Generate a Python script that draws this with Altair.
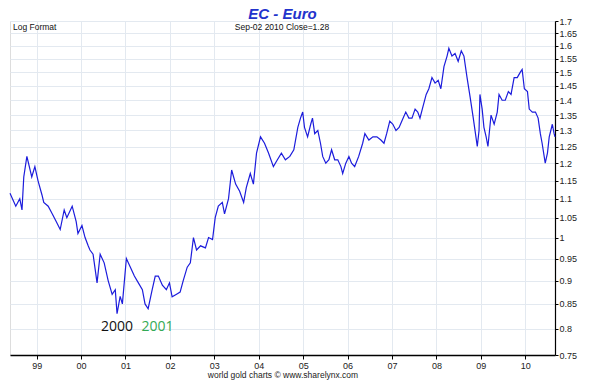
import altair as alt
import pandas as pd

# Decimal year and EUR/USD close
years = [1998.40, 1998.53, 1998.62, 1998.67, 1998.71, 1998.78, 1998.89, 1998.96,
         1999.03, 1999.12, 1999.16, 1999.26, 1999.35, 1999.44, 1999.53, 1999.62,
         1999.68, 1999.80, 1999.89, 1999.93, 2000.02, 2000.09, 2000.16, 2000.20,
         2000.27, 2000.36, 2000.43, 2000.52, 2000.61, 2000.70, 2000.77, 2000.81,
         2000.88, 2000.93, 2001.02, 2001.11, 2001.20, 2001.29, 2001.38, 2001.44,
         2001.51, 2001.60, 2001.67, 2001.74, 2001.83, 2001.92, 2001.99, 2002.05,
         2002.14, 2002.23, 2002.30, 2002.39, 2002.46, 2002.53, 2002.60, 2002.69,
         2002.80, 2002.87, 2002.96, 2003.02, 2003.09, 2003.18, 2003.23, 2003.32,
         2003.39, 2003.48, 2003.57, 2003.66, 2003.72, 2003.81, 2003.88, 2003.95,
         2004.04, 2004.13, 2004.22, 2004.33, 2004.42, 2004.51, 2004.60, 2004.70,
         2004.79, 2004.88, 2004.94, 2004.99, 2005.03, 2005.10, 2005.17, 2005.21,
         2005.26, 2005.33, 2005.39, 2005.44, 2005.51, 2005.58, 2005.64, 2005.71,
         2005.78, 2005.85, 2005.89, 2005.96, 2006.03, 2006.09, 2006.16, 2006.25,
         2006.34, 2006.39, 2006.48, 2006.57, 2006.66, 2006.75, 2006.82, 2006.88,
         2006.95, 2007.02, 2007.09, 2007.16, 2007.22, 2007.31, 2007.38, 2007.45,
         2007.52, 2007.58, 2007.63, 2007.70, 2007.77, 2007.83, 2007.90, 2007.97,
         2008.04, 2008.10, 2008.17, 2008.24, 2008.28, 2008.35, 2008.42, 2008.49,
         2008.56, 2008.62, 2008.69, 2008.76, 2008.83, 2008.89, 2008.92, 2008.96,
         2008.98, 2009.03, 2009.07, 2009.12, 2009.16, 2009.23, 2009.30, 2009.37,
         2009.41, 2009.48, 2009.55, 2009.62, 2009.68, 2009.75, 2009.82, 2009.89,
         2009.93, 2009.98, 2010.05, 2010.09, 2010.16, 2010.23, 2010.29, 2010.34,
         2010.38, 2010.45, 2010.50, 2010.54, 2010.61, 2010.65, 2010.67]
rates = [1.115, 1.08, 1.10, 1.07, 1.16, 1.22, 1.16, 1.19,
         1.15, 1.11, 1.09, 1.08, 1.06, 1.04, 1.02, 1.07,
         1.05, 1.08, 1.04, 1.01, 1.03, 1.00, 0.98, 0.97,
         0.96, 0.895, 0.96, 0.94, 0.90, 0.87, 0.88, 0.83,
         0.866, 0.85, 0.95, 0.93, 0.91, 0.895, 0.88, 0.85,
         0.84, 0.88, 0.91, 0.91, 0.89, 0.88, 0.895, 0.865,
         0.87, 0.875, 0.90, 0.93, 0.94, 1.00, 0.97, 0.98,
         0.975, 1.00, 0.995, 1.05, 1.08, 1.09, 1.06, 1.10,
         1.18, 1.14, 1.12, 1.09, 1.13, 1.17, 1.14, 1.23,
         1.28, 1.26, 1.23, 1.19, 1.21, 1.23, 1.21, 1.22,
         1.24, 1.31, 1.34, 1.36, 1.31, 1.28, 1.32, 1.34,
         1.29, 1.30, 1.26, 1.22, 1.20, 1.21, 1.24, 1.21,
         1.21, 1.19, 1.17, 1.20, 1.22, 1.20, 1.19, 1.22,
         1.26, 1.29, 1.27, 1.28, 1.28, 1.27, 1.26, 1.29,
         1.33, 1.32, 1.30, 1.31, 1.33, 1.36, 1.34, 1.34,
         1.37, 1.36, 1.34, 1.38, 1.42, 1.44, 1.48, 1.46,
         1.47, 1.44, 1.52, 1.56, 1.59, 1.56, 1.57, 1.54,
         1.58, 1.56, 1.48, 1.41, 1.34, 1.28, 1.25, 1.30,
         1.42, 1.37, 1.31, 1.28, 1.25, 1.35, 1.32, 1.36,
         1.42, 1.40, 1.40, 1.43, 1.42, 1.48, 1.48, 1.50,
         1.51, 1.44, 1.43, 1.37, 1.36, 1.36, 1.34, 1.29,
         1.26, 1.20, 1.23, 1.28, 1.32, 1.29, 1.28]

x_ticks = list(range(1999, 2011))
y_ticks = [0.75, 0.8, 0.85, 0.9, 0.95, 1, 1.05, 1.1, 1.15, 1.2, 1.25, 1.3,
           1.35, 1.4, 1.45, 1.5, 1.55, 1.6, 1.65, 1.7]

ann_labels = ["2000", "2001"]
ann_years = [2000.81, 2001.72]
ann_rates = [0.803, 0.803]
ann_colors = ["#111111", "#33aa55"]

title_text = "EC  -  Euro"
subtitle_left = "Log Format"
subtitle_mid = "Sep-02  2010    Close=1.28"

df = pd.DataFrame({"year": years, "rate": rates})
ann = pd.DataFrame({"year": ann_years, "rate": ann_rates,
                    "label": ann_labels, "color": ann_colors})

FONT = "Liberation Sans"

xs = alt.Scale(domain=[1998.40, 2010.67], nice=False, zero=False)
ys = alt.Scale(type="log", domain=[0.75, 1.7], nice=False, zero=False)

line = alt.Chart(df).mark_line(color="#1c1cdc", strokeWidth=1.2).encode(
    x=alt.X("year:Q", scale=xs,
            axis=alt.Axis(values=x_ticks,
                          labelExpr="slice(toString(datum.value), 2)",
                          title="world gold charts © www.sharelynx.com",
                          titleFont=FONT, titleFontSize=8.5, titleFontWeight="normal",
                          titleColor="#222", titlePadding=0,
                          labelFont=FONT, labelFontSize=9, labelColor="#222",
                          labelPadding=2, tickSize=4, tickColor="#000",
                          domainColor="#000", domainWidth=1.5,
                          grid=True, gridColor="#e3e9f0", gridWidth=1)),
    y=alt.Y("rate:Q", scale=ys,
            axis=alt.Axis(orient="right", values=y_ticks, format="~g", title=None,
                          labelFont=FONT, labelFontSize=9, labelColor="#222",
                          labelPadding=1, tickSize=3, tickColor="#000",
                          domainColor="#000", domainWidth=1.2,
                          grid=True, gridColor="#e3e9f0", gridWidth=1)),
)

ann_text = alt.Chart(ann).mark_text(font="Open Sans", fontSize=14,
                                    align="center", baseline="middle").encode(
    x=alt.X("year:Q", scale=xs),
    y=alt.Y("rate:Q", scale=ys),
    text="label:N",
    color=alt.Color("color:N", scale=None),
)

title_mark = alt.Chart(pd.DataFrame({"t": [title_text]})).mark_text(
    font=FONT, fontSize=15, fontStyle="italic", fontWeight="bold",
    align="center", baseline="alphabetic", color="#2233cc"
).encode(x=alt.value(272.5), y=alt.value(-2), text="t:N")

top_left = alt.Chart(pd.DataFrame({"t": [subtitle_left]})).mark_text(
    font=FONT, fontSize=8.5, align="left", baseline="middle", color="#111"
).encode(x=alt.value(3), y=alt.value(6), text="t:N")

top_mid = alt.Chart(pd.DataFrame({"t": [subtitle_mid]})).mark_text(
    font=FONT, fontSize=8.5, align="center", baseline="middle", color="#111"
).encode(x=alt.value(272), y=alt.value(6), text="t:N")

chart = alt.layer(line, ann_text, title_mark, top_left, top_mid).properties(
    width=545, height=334,
    autosize=alt.AutoSizeParams(type="none"),
    padding={"left": 2, "top": 13, "right": 52, "bottom": 27},
).configure_view(stroke="#000", strokeWidth=1).configure(background="white")

chart.save("out.html", embed_options={"renderer": "svg", "actions": False})
